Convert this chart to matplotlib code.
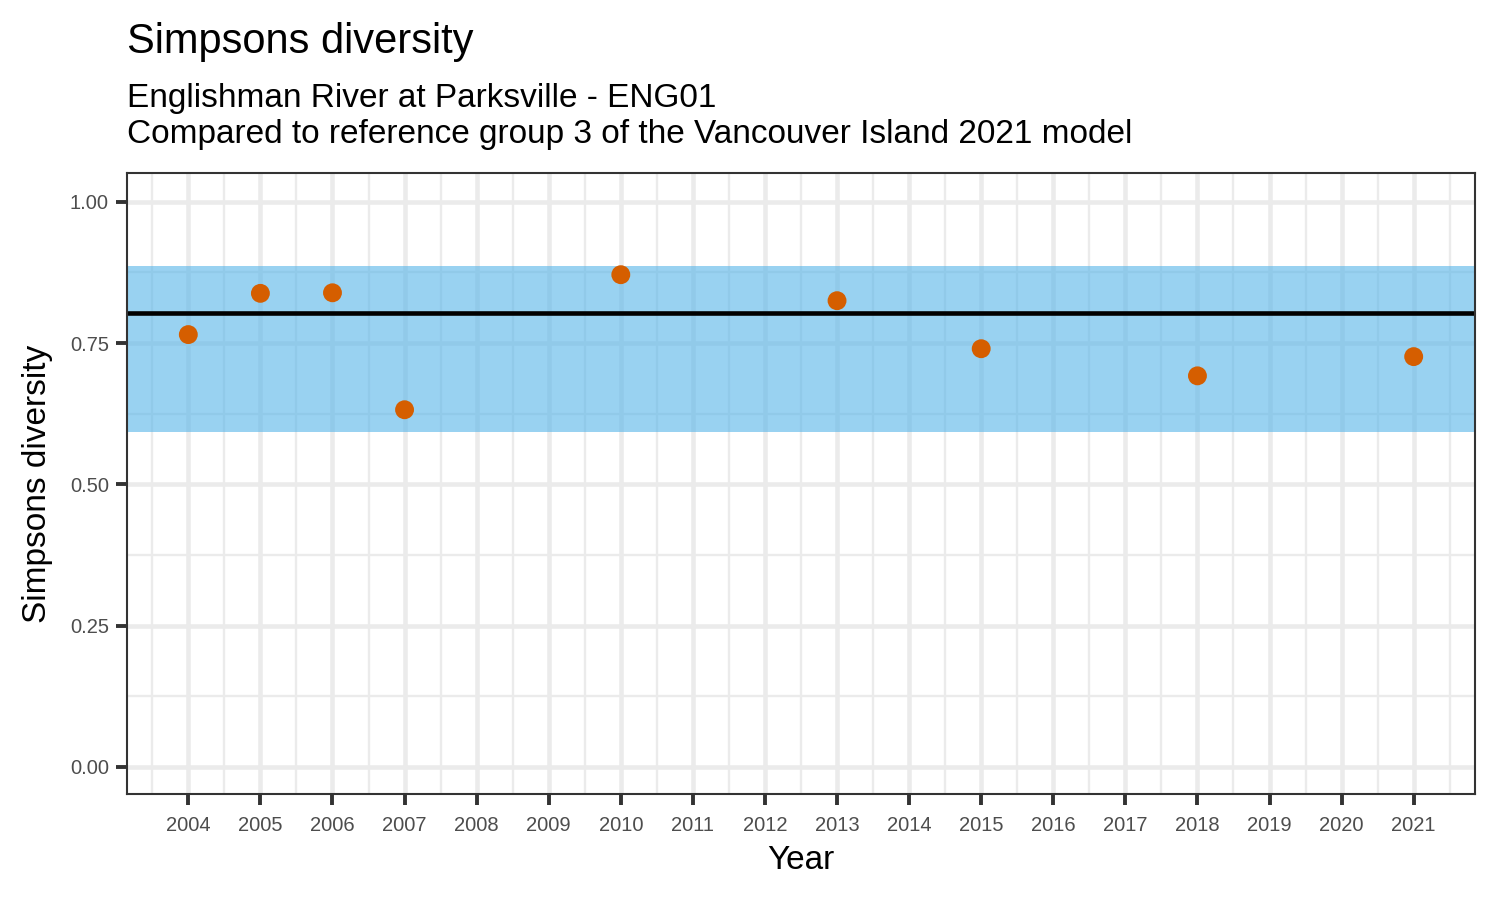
import numpy as np
import matplotlib.pyplot as plt
from matplotlib.ticker import MultipleLocator

# --- Data ---
years = [2004, 2005, 2006, 2007, 2010, 2013, 2015, 2018, 2021]
simpson = [0.765, 0.838, 0.839, 0.632, 0.871, 0.825, 0.740, 0.692, 0.726]
ref_mean = 0.803
ref_low = 0.593
ref_high = 0.887

plt.rcParams['font.family'] = ['Liberation Sans', 'DejaVu Sans']

fig = plt.figure(figsize=(15, 9), dpi=100)
ax = fig.add_axes([0.0847, 0.1178, 0.8986, 0.69])

x_min, x_max = 2003.15, 2021.85
ax.set_xlim(x_min, x_max)
ax.set_ylim(-0.048, 1.051)

# grid (theme_bw style)
ax.set_xticks(np.arange(2004, 2022))
ax.set_yticks([0.0, 0.25, 0.5, 0.75, 1.0])
ax.set_yticklabels(['0.00', '0.25', '0.50', '0.75', '1.00'])
ax.xaxis.set_minor_locator(MultipleLocator(0.5))
ax.yaxis.set_minor_locator(MultipleLocator(0.125))
ax.grid(which='major', color='#ebebeb', linewidth=3.3, zorder=0)
ax.grid(which='minor', color='#ebebeb', linewidth=1.7, zorder=0)
ax.set_axisbelow(True)
ax.tick_params(which='minor', length=0)
ax.tick_params(which='major', length=8, width=2.8, color='#333333',
               labelsize=14.5, labelcolor='#4d4d4d', pad=5)
ax.tick_params(axis='x', pad=8)

# reference band and mean
ax.axhspan(ref_low, ref_high, color='#56B4E9', alpha=0.6, linewidth=0, zorder=1)
ax.axhline(ref_mean, color='black', linewidth=3.3, zorder=2)

# observed points
ax.scatter(years, simpson, s=185, color='#D55E00', edgecolors='none', zorder=3)

for s in ax.spines.values():
    s.set_color('#333333')
    s.set_linewidth(1.5)

ax.set_xlabel('Year', fontsize=24, va='center')
ax.xaxis.set_label_coords(0.5, -0.107)
ax.set_ylabel('Simpsons diversity', fontsize=24, va='center')
ax.yaxis.set_label_coords(-0.0668, 0.5)

fig.text(0.0847, 0.953, 'Simpsons diversity', fontsize=30, va='center')
fig.text(0.0847, 0.890, 'Englishman River at Parksville - ENG01', fontsize=24, va='center')
fig.text(0.0847, 0.851, 'Compared to reference group 3 of the Vancouver Island 2021 model',
         fontsize=24, va='center')

plt.savefig('out.png', dpi=100)
plt.close()
